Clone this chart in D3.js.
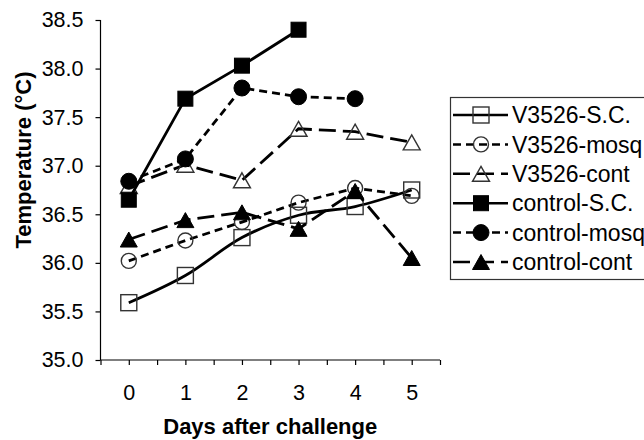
<!DOCTYPE html>
<html>
<head>
<meta charset="utf-8">
<script src="https://cdn.jsdelivr.net/npm/d3@7"></script>
<style>
  body { margin: 0; background: #fff; }
  svg { font-family: Arial, "Liberation Sans", sans-serif; }
</style>
</head>
<body>
<svg id="chart" width="644" height="440"></svg>
<script>
// values
const days = [0, 1, 2, 3, 4, 5];
const v3526SC = [35.59, 35.87, 36.26, 36.49, 36.58, 36.75];
const v3526Mosq = [36.02, 36.23, 36.42, 36.62, 36.77, 36.69];
const v3526Cont = [36.79, 37.01, 36.85, 37.38, 37.35, 37.24];
const controlSC = [36.65, 37.69, 38.03, 38.40];
const controlMosq = [36.84, 37.07, 37.80, 37.71, 37.69];
const controlCont = [36.24, 36.44, 36.52, 36.35, 36.74, 36.05];
const yTicks = [35.0, 35.5, 36.0, 36.5, 37.0, 37.5, 38.0, 38.5];

const series = [
  { name: 'V3526-S.C.', values: v3526SC, dash: null, marker: 'square', filled: false, smooth: true },
  { name: 'V3526-mosq', values: v3526Mosq, dash: '8,5', marker: 'circle', filled: false },
  { name: 'V3526-cont', values: v3526Cont, dash: '17,7', marker: 'triangle', filled: false },
  { name: 'control-S.C.', values: controlSC, dash: null, marker: 'square', filled: true },
  { name: 'control-mosq', values: controlMosq, dash: '8,5', marker: 'circle', filled: true },
  { name: 'control-cont', values: controlCont, dash: '17,7', marker: 'triangle', filled: true },
];

const svg = d3.select('#chart');
const plotLeft = 100.5, plotRight = 440, plotTop = 20, plotBottom = 360;

const x = d3.scaleLinear().domain([-0.5, 5.5]).range([plotLeft, plotRight]);
const y = d3.scaleLinear().domain([35, 38.5]).range([plotBottom, plotTop]);

// axes
const xAxis = d3.axisBottom(x)
  .tickValues(d3.range(-0.5, 5.51, 0.5))
  .tickSize(5)
  .tickPadding(20)
  .tickFormat(d => (Number.isInteger(d) ? d : ''));

const yAxis = d3.axisLeft(y)
  .tickValues(yTicks)
  .tickSize(5)
  .tickPadding(12)
  .tickFormat(d3.format('.1f'));

const styleAxis = g => {
  g.select('.domain').attr('stroke', '#000').attr('stroke-width', 1.2);
  g.selectAll('.tick line').attr('stroke', '#000').attr('stroke-width', 1.2);
  g.selectAll('.tick text').attr('fill', '#000').style('font-size', '21.5px');
};

svg.append('g')
  .attr('transform', `translate(0,${plotBottom})`)
  .call(xAxis)
  .call(g => g.select('.domain').attr('d', `M${plotLeft},0H${plotRight}`))
  .call(styleAxis);

svg.append('g')
  .attr('transform', `translate(${plotLeft},0)`)
  .call(yAxis)
  .call(g => g.select('.domain').attr('d', `M0,${plotTop}V${plotBottom}`))
  .call(styleAxis);

// axis titles
svg.append('text')
  .attr('x', (plotLeft + plotRight) / 2)
  .attr('y', 434)
  .attr('text-anchor', 'middle')
  .style('font-size', '22px')
  .style('font-weight', 'bold')
  .text('Days after challenge');

svg.append('text')
  .attr('transform', 'translate(31,160) rotate(-90)')
  .attr('text-anchor', 'middle')
  .style('font-size', '22px')
  .style('font-weight', 'bold')
  .text('Temperature (°C)');

// marker drawing
const drawMarker = (g, s, cx, cy) => {
  const fill = s.filled ? '#000' : 'none';
  const stroke = s.filled ? '#000' : '#333';
  const sw = s.filled ? 1 : 1.4;
  if (s.marker === 'square') {
    const h = s.filled ? 7.5 : 8;
    g.append('rect')
      .attr('x', cx - h).attr('y', cy - h)
      .attr('width', 2 * h).attr('height', 2 * h)
      .attr('fill', fill).attr('stroke', stroke).attr('stroke-width', sw);
  } else if (s.marker === 'circle') {
    g.append('circle')
      .attr('cx', cx).attr('cy', cy).attr('r', s.filled ? 8 : 7.5)
      .attr('fill', fill).attr('stroke', stroke).attr('stroke-width', sw);
  } else {
    const w = 8.5, h = 7.5;
    g.append('path')
      .attr('d', `M${cx},${cy - h}L${cx + w},${cy + h}L${cx - w},${cy + h}Z`)
      .attr('fill', fill).attr('stroke', stroke).attr('stroke-width', sw);
  }
};

// series
const plot = svg.append('g');
series.forEach(s => {
  const line = d3.line()
    .x((d, i) => x(days[i]))
    .y(d => y(d))
    .curve(s.smooth ? d3.curveCatmullRom.alpha(0) : d3.curveLinear);
  const g = plot.append('g');
  g.append('path')
    .datum(s.values)
    .attr('d', line)
    .attr('fill', 'none')
    .attr('stroke', '#000')
    .attr('stroke-width', 2.8)
    .attr('stroke-dasharray', s.dash);
  s.values.forEach((v, i) => drawMarker(g, s, x(days[i]), y(v)));
});

// legend
const legend = svg.append('g');
legend.append('rect')
  .attr('x', 450.5).attr('y', 97.5)
  .attr('width', 210).attr('height', 182)
  .attr('fill', '#fff').attr('stroke', '#333').attr('stroke-width', 1.2);

series.forEach((s, i) => {
  const cy = 115 + i * 29.4;
  const g = legend.append('g');
  g.append('line')
    .attr('x1', 453).attr('x2', 508)
    .attr('y1', cy).attr('y2', cy)
    .attr('stroke', '#000').attr('stroke-width', 2.5)
    .attr('stroke-dasharray', s.dash);
  drawMarker(g, s, 481, cy);
  g.append('text')
    .attr('x', 512)
    .attr('y', cy)
    .attr('dy', '0.36em')
    .style('font-size', '23px')
    .attr('fill', '#000')
    .text(s.name);
});
</script>
</body>
</html>
